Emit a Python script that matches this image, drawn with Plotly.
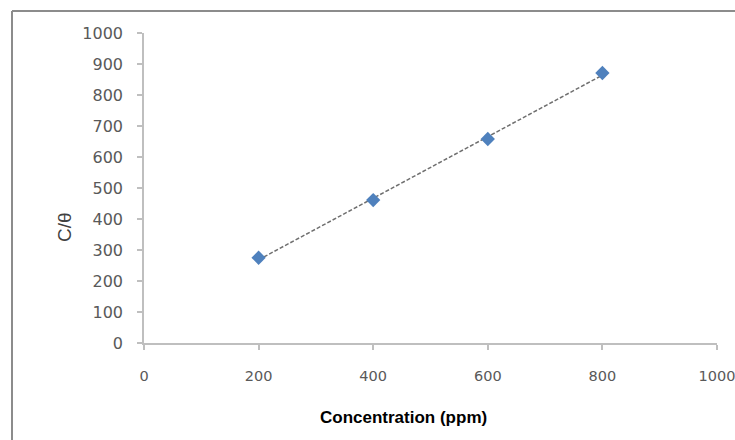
import numpy as np
import plotly.graph_objects as go

# Data
concentration = [200, 400, 600, 800]
c_over_theta = [275, 461, 658, 871]
x_ticks = [0, 200, 400, 600, 800, 1000]
y_ticks = [0, 100, 200, 300, 400, 500, 600, 700, 800, 900, 1000]

W, H = 735, 440
L, R, T, B = 144, 18, 33, 97
pw, ph = W - L - R, H - T - B

slope, intercept = np.polyfit(concentration, c_over_theta, 1)
fit_x = [min(concentration), max(concentration)]
fit_y = [slope * v + intercept for v in fit_x]

fig = go.Figure()
fig.add_trace(go.Scatter(
    x=fit_x, y=fit_y, mode="lines",
    line=dict(color="#6f6f6f", width=1.5, dash="4px,2px"),
    showlegend=False, hoverinfo="skip"))
fig.add_trace(go.Scatter(
    x=concentration, y=c_over_theta, mode="markers",
    marker=dict(symbol="diamond", size=11, color="#4F81BD",
                line=dict(color="#4F81BD", width=0)),
    showlegend=False))

axis_common = dict(
    showgrid=False, zeroline=False, showline=True, automargin=False,
    linecolor="#BFBFBF", linewidth=1.5,
    ticks="outside", ticklen=5, tickcolor="#BFBFBF", tickwidth=1.5,
    ticklabeloverflow="allow",
)
fig.update_xaxes(range=[0, 1000], tickvals=x_ticks, ticklabelstandoff=14,
                 tickfont=dict(family="DejaVu Sans, Liberation Sans, Arial", size=14.5, color="#595959"),
                 **axis_common)
fig.update_yaxes(range=[0, 1000], tickvals=y_ticks, ticklabelstandoff=11,
                 tickfont=dict(family="DejaVu Sans, Liberation Sans, Arial", size=16, color="#595959"),
                 **axis_common)

def px_to_paper_x(px):
    return (px - L) / pw

def px_to_paper_y(py):
    return (H - B - py) / ph

fig.add_annotation(
    x=px_to_paper_x(403), y=px_to_paper_y(417), xref="paper", yref="paper",
    xanchor="center", yanchor="middle",
    text="<b>Concentration (ppm)</b>", showarrow=False,
    font=dict(family="Liberation Sans Narrow, Liberation Sans, Arial", size=17, color="#000000"))
fig.add_annotation(
    x=px_to_paper_x(65), y=px_to_paper_y(227), xref="paper", yref="paper",
    xanchor="center", yanchor="middle",
    text="C/θ", textangle=-90, showarrow=False,
    font=dict(family="Liberation Sans, Arial", size=19, color="#404040"))

# Chart frame (left and top edges visible)
fig.add_shape(type="line", xref="paper", yref="paper",
              x0=px_to_paper_x(12), x1=px_to_paper_x(12),
              y0=px_to_paper_y(440), y1=px_to_paper_y(11),
              line=dict(color="#8c8c8c", width=2))
fig.add_shape(type="line", xref="paper", yref="paper",
              x0=px_to_paper_x(12), x1=px_to_paper_x(735),
              y0=px_to_paper_y(11), y1=px_to_paper_y(11),
              line=dict(color="#8c8c8c", width=2))

fig.update_layout(
    width=W, height=H,
    margin=dict(l=L, r=R, t=T, b=B),
    paper_bgcolor="white", plot_bgcolor="white",
)
fig.write_html("out.html")
